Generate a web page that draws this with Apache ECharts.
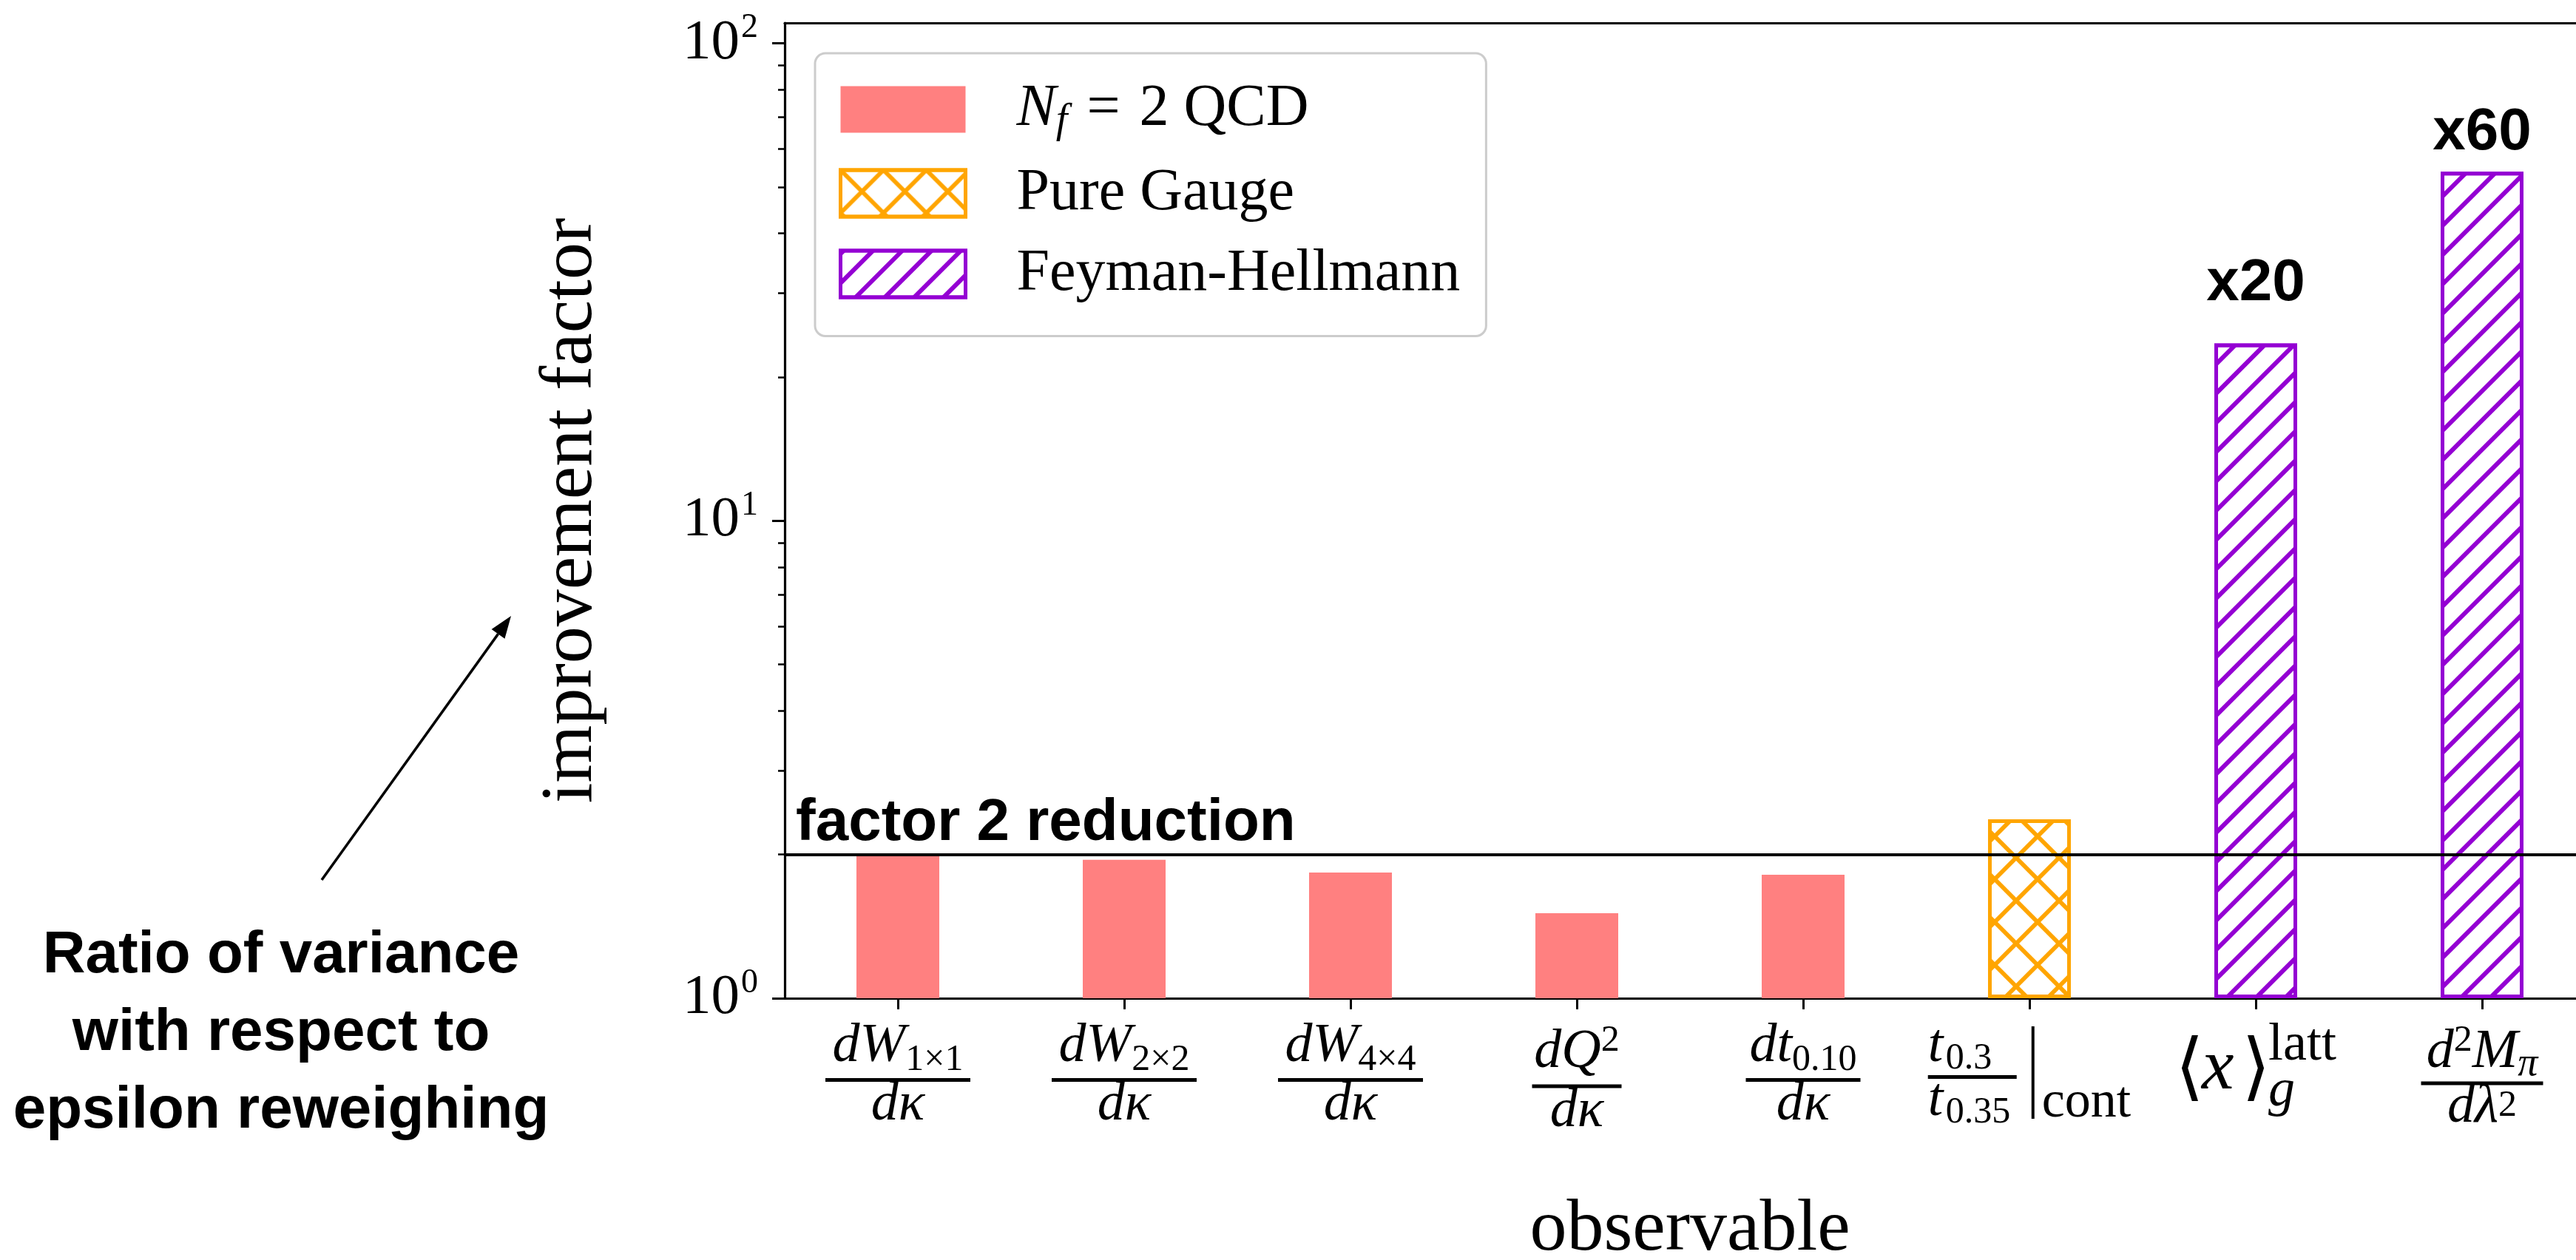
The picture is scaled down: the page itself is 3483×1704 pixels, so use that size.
<!DOCTYPE html>
<html><head><meta charset="utf-8">
<script src="https://cdn.jsdelivr.net/npm/echarts@6/dist/echarts.min.js"></script>
<style>html,body{margin:0;padding:0;background:#fff}#c{width:3483px;height:1704px}</style>
</head><body><div id="c"></div>
<script>
// ---------------- data ----------------
const categories = ['dW1x1/dkappa', 'dW2x2/dkappa', 'dW4x4/dkappa', 'dQ2/dkappa', 'dt0.10/dkappa', 't0.3/t0.35|cont', '<x>latt_g', 'd2Mpi/dlambda2'];
const seriesNames = ['Nf = 2 QCD', 'Pure Gauge', 'Feyman-Hellmann'];
const nf2Values = [1.985, 1.95, 1.834, 1.507, 1.814, null, null, null];
const pureGaugeValues = [null, null, null, null, null, 2.37, null, null];
const fhValues = [null, null, null, null, null, null, 23.5, 53.8];
const fhTags = [null, null, null, null, null, null, 'x20', 'x60'];
const yMajorTicks = [1, 10, 100];
const yMinorTicks = [2, 3, 4, 5, 6, 7, 8, 9, 20, 30, 40, 50, 60, 70, 80, 90];
const yTickLabels = ['{b|10}{p|0}', '{b|10}{p|1}', '{b|10}{p|2}'];
const xTickLabels = [
  '{n|dW}{s|1×1}\n{b1| }\n{n|dκ}',
  '{n|dW}{s|2×2}\n{b1| }\n{n|dκ}',
  '{n|dW}{s|4×4}\n{b1| }\n{n|dκ}',
  '{n4|dQ}{p4|2}\n{b4| }\n{d4|dκ}',
  '{n|dt}{s|0.10}\n{b5| }\n{n|dκ}',
  '{t6|t}{s6|0.3}{g6| }{vb| }\n{b6| }\n{t6|t}{s6|0.35}{g6| }{vs| }{c6|cont}',
  '{sp7| }{up7|latt}\n{bl7|⟨}{x7|x}{br7|⟩}{g7|g}',
  '{n8|d}{p8|2}{n8|M}{s8|π}\n{b8| }\n{n|dλ}{p8b|2}'
];
const legendLabels = ['{i|N}{sub|f}{eq|=}{r|2 QCD}', '{r|Pure Gauge}', '{r|Feyman-Hellmann}'];
const referenceValue = 2;
const referenceText = 'factor 2 reduction';
const noteLines = ['Ratio of variance', 'with respect to', 'epsilon reweighing'];
const xAxisTitle = 'observable';
const yAxisTitle = 'improvement factor';

// ---------------- styles ----------------
const SERIF = "'Liberation Serif', 'DejaVu Serif', serif";
const SANS = "'Liberation Sans', 'DejaVu Sans', sans-serif";
const BRK = "'DejaVu Sans', 'DejaVu Serif', serif";
const RED = '#FF8080', ORANGE = '#FFA500', PURPLE = '#9400D3';
const tagGap = [0, 0, 0, 0, 0, 0, 41, 12];

const purpleDecal = {symbol: 'rect', symbolSize: 1, color: PURPLE, dashArrayX: [1, 0], dashArrayY: [6, 22], rotation: -Math.PI / 4};
const orangeDecal = {symbol: 'path://M0,0L7,0L50,43L93,0L100,0L100,7L57,50L100,93L100,100L93,100L50,57L7,100L0,100L0,93L43,50L0,7Z',
  symbolSize: 1, symbolKeepAspect: false, color: ORANGE, dashArrayX: [58, 0], dashArrayY: [58, 0], rotation: 0};

const base = {fontFamily: SERIF, color: '#000'};
const main = Object.assign({}, base, {fontStyle: 'italic', fontSize: 74, height: 56, padding: [0, 0, 10, 0], verticalAlign: 'bottom'});
const bar = (w, lh) => ({width: w, height: 5, lineHeight: lh, backgroundColor: '#000', fontSize: 4});
const xRich = {
  n: main,
  s: Object.assign({}, base, {fontSize: 50, height: 40, verticalAlign: 'bottom'}),
  b1: bar(196, 13),
  n4: Object.assign({}, main, {padding: [8, 0, 14, 0]}),
  p4: Object.assign({}, base, {fontSize: 50, height: 40, verticalAlign: 'top'}),
  b4: bar(121, 6),
  d4: Object.assign({}, main, {padding: [4, 0, 10, 0]}),
  b5: bar(155, 13),
  t6: Object.assign({}, main, {padding: [0, 0, 8, 0], width: 24, align: 'left'}),
  s6: Object.assign({}, base, {fontSize: 50, height: 40, verticalAlign: 'bottom', width: 92, align: 'left'}),
  g6: {width: 24, fontSize: 4, align: 'left'},
  vb: {width: 4, height: 125, lineHeight: 10, backgroundColor: '#000', verticalAlign: 'top', align: 'left', fontSize: 4},
  vs: {width: 14, fontSize: 4, align: 'left'},
  c6: Object.assign({}, base, {fontSize: 70, height: 50, padding: [0, 0, 8, 0], verticalAlign: 'bottom', align: 'left'}),
  b6: Object.assign(bar(120, 9), {align: 'left'}),
  sp7: {width: 126, fontSize: 4, align: 'left'},
  up7: Object.assign({}, base, {fontSize: 72, height: 52, verticalAlign: 'bottom', align: 'left'}),
  bl7: {fontFamily: BRK, color: '#000', fontSize: 100, width: 36, height: 20, lineHeight: 20, verticalAlign: 'top', align: 'left'},
  x7: Object.assign({}, base, {fontStyle: 'italic', fontSize: 98, width: 54, height: 12, lineHeight: 12, verticalAlign: 'top', align: 'left'}),
  br7: {fontFamily: BRK, color: '#000', fontSize: 100, width: 36, height: 20, lineHeight: 20, verticalAlign: 'top', align: 'left'},
  g7: Object.assign({}, base, {fontStyle: 'italic', fontSize: 72, height: 50, padding: [0, 0, 19, 0], lineHeight: 80, verticalAlign: 'bottom', align: 'left'}),
  n8: Object.assign({}, main, {padding: [8, 0, 8, 0]}),
  p8: Object.assign({}, base, {fontSize: 50, height: 40, verticalAlign: 'top'}),
  s8: Object.assign({}, base, {fontStyle: 'italic', fontSize: 54, height: 40, verticalAlign: 'bottom'}),
  b8: bar(165, 10),
  p8b: Object.assign({}, base, {fontSize: 50, height: 40, verticalAlign: 'top', padding: [6, 0, 0, 0]})
};
const yRich = {
  b: Object.assign({}, base, {fontSize: 77, padding: [10, 0, 10, 0]}),
  p: Object.assign({}, base, {fontSize: 46, verticalAlign: 'top', padding: [5, 0, 0, 2]})
};
const legendRich = {
  r: Object.assign({}, base, {fontSize: 80, lineHeight: 63}),
  eq: Object.assign({}, base, {fontSize: 80, lineHeight: 63, padding: [0, 26, 0, 26]}),
  i: Object.assign({}, base, {fontSize: 80, lineHeight: 63, fontStyle: 'italic'}),
  sub: Object.assign({}, base, {fontSize: 56, fontStyle: 'italic', height: 30, lineHeight: 63, verticalAlign: 'bottom'})
};
const legendItemStyles = [
  {color: RED, borderWidth: 0},
  {color: '#fff', borderColor: ORANGE, borderWidth: 5, decal: orangeDecal},
  {color: '#fff', borderColor: PURPLE, borderWidth: 5, decal: purpleDecal}
];

// arrow geometry for the side note
const arrowTail = [435, 1190], arrowTip = [691, 833];
const adx = arrowTip[0] - arrowTail[0], ady = arrowTip[1] - arrowTail[1];
const alen = Math.hypot(adx, ady), ux = adx / alen, uy = ady / alen;
const headL = 30, headW = 11;
const hb = [arrowTip[0] - ux * headL, arrowTip[1] - uy * headL];

const toBar = v => (v == null ? '-' : v);
const yMax = Math.pow(10, 1319 / 645.8);

const chart = echarts.init(document.getElementById('c'), null, {renderer: 'canvas'});
chart.setOption({
  animation: false,
  backgroundColor: '#fff',
  textStyle: {fontFamily: SERIF},
  grid: {left: 1061, top: 31, right: -26, bottom: 354, containLabel: false, outerBoundsMode: 'none'},
  legend: {
    orient: 'vertical', left: 1102, top: 72,
    padding: [36, 35, 44, 32],
    itemWidth: 169, itemHeight: 63, itemGap: 29,
    icon: 'rect',
    backgroundColor: '#fff', borderColor: '#cccccc', borderWidth: 3, borderRadius: 14,
    textStyle: {fontFamily: SERIF, fontSize: 80, color: '#000', padding: [0, 0, 0, 64], rich: legendRich},
    formatter: name => legendLabels[seriesNames.indexOf(name)],
    data: seriesNames.map((n, i) => ({name: n, itemStyle: legendItemStyles[i]}))
  },
  xAxis: [
    {
      type: 'category', data: categories, position: 'bottom',
      axisLine: {show: true, lineStyle: {color: '#000', width: 3.2}},
      axisTick: {show: true, alignWithLabel: true, length: 15, lineStyle: {color: '#000', width: 3}},
      axisLabel: {interval: 0, margin: 38, color: '#000', formatter: (v, i) => xTickLabels[i], rich: xRich},
      splitLine: {show: false},
      name: xAxisTitle, nameLocation: 'middle', nameGap: 264,
      nameTextStyle: {fontFamily: SERIF, fontSize: 100, color: '#000'}
    },
    {
      type: 'category', data: categories, position: 'top',
      axisLine: {show: true, lineStyle: {color: '#000', width: 3.2}},
      axisTick: {show: false}, axisLabel: {show: false}, splitLine: {show: false}
    }
  ],
  yAxis: [
    {
      type: 'log', logBase: 10, min: 1, max: yMax, position: 'left',
      axisLine: {show: true, lineStyle: {color: '#000', width: 3.2}},
      axisTick: {show: true, length: 17, customValues: yMajorTicks, lineStyle: {color: '#000', width: 3}},
      axisLabel: {
        customValues: yMajorTicks, margin: 36, color: '#000', rich: yRich,
        formatter: v => {
          const k = yMajorTicks.findIndex(t => Math.abs(t - v) < 1e-6 * t);
          return k < 0 ? '' : yTickLabels[k];
        }
      },
      splitLine: {show: false}, minorTick: {show: false},
      name: yAxisTitle, nameLocation: 'middle', nameGap: 238,
      nameTextStyle: {fontFamily: SERIF, fontSize: 100, color: '#000'}
    },
    {
      type: 'log', logBase: 10, min: 1, max: yMax, position: 'left',
      axisLine: {show: false},
      axisTick: {show: true, length: 9, customValues: yMinorTicks, lineStyle: {color: '#000', width: 2.5}},
      axisLabel: {show: false}, splitLine: {show: false}
    }
  ],
  series: [
    {
      name: seriesNames[0], type: 'bar', data: nf2Values.map(toBar),
      barWidth: 112, barGap: '-100%', itemStyle: {color: RED},
      markLine: {
        silent: true, symbol: ['none', 'none'], z: 10,
        lineStyle: {color: '#000', width: 3.8, type: 'solid'},
        label: {show: true, position: 'insideStartTop', distance: [15, 2], formatter: referenceText,
          fontFamily: SANS, fontWeight: 'bold', fontSize: 80, color: '#000'},
        data: [{yAxis: referenceValue}]
      }
    },
    {
      name: seriesNames[1], type: 'bar', data: pureGaugeValues.map(toBar),
      barWidth: 112, barGap: '-100%',
      itemStyle: {color: '#fff', borderColor: ORANGE, borderWidth: 5, decal: orangeDecal}
    },
    {
      name: seriesNames[2], type: 'bar',
      data: fhValues.map((v, i) => v == null ? '-' : {
        value: v,
        label: {show: !!fhTags[i], position: 'top', distance: tagGap[i], formatter: fhTags[i] || ''}
      }),
      barWidth: 112, barGap: '-100%',
      itemStyle: {color: '#fff', borderColor: PURPLE, borderWidth: 5, decal: purpleDecal},
      label: {fontFamily: SANS, fontWeight: 'bold', fontSize: 80, color: '#000'}
    }
  ],
  graphic: [
    {
      type: 'text', x: 380, y: 1240,
      style: {text: noteLines.join('\n'), fontFamily: SANS, fontWeight: 'bold', fontSize: 80, fill: '#000',
        align: 'center', textAlign: 'center', verticalAlign: 'top', textVerticalAlign: 'top', lineHeight: 105}
    },
    {
      type: 'line', shape: {x1: arrowTail[0], y1: arrowTail[1], x2: hb[0], y2: hb[1]},
      style: {stroke: '#000', lineWidth: 3.5}
    },
    {
      type: 'polygon',
      shape: {points: [arrowTip, [hb[0] + uy * headW, hb[1] - ux * headW], [hb[0] - uy * headW, hb[1] + ux * headW]]},
      style: {fill: '#000'}
    }
  ]
});
</script></body></html>
